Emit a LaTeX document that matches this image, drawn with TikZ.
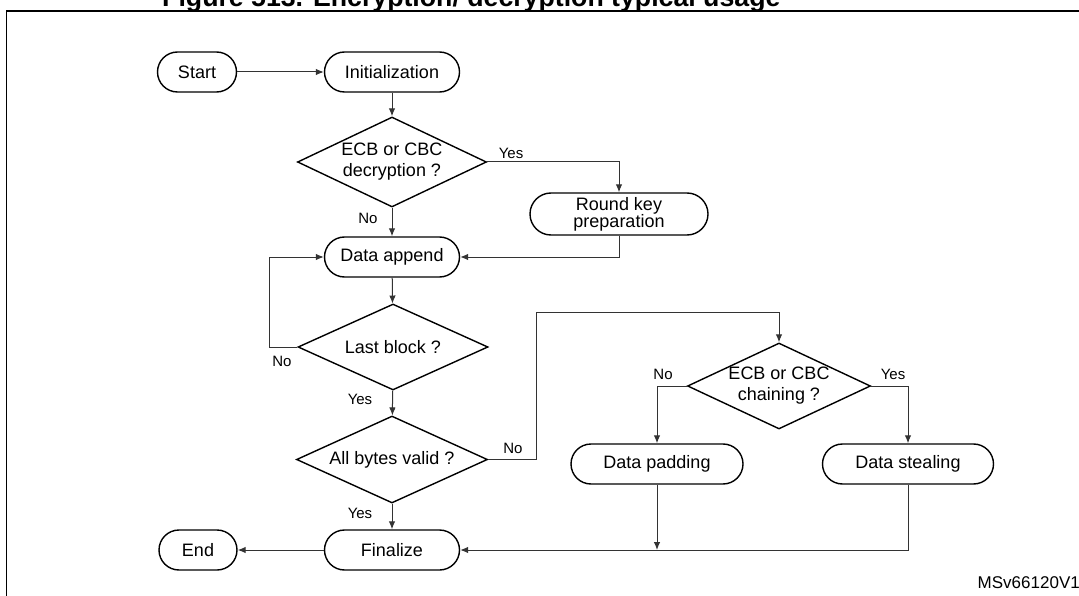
\documentclass[tikz,border=0pt]{standalone}
\usepackage{fontspec}
\setmainfont{Liberation Sans}
\usetikzlibrary{shapes.geometric,arrows.meta}
\begin{document}
\begin{tikzpicture}[x=1pt,y=-1pt,
  term/.style={draw=black,line width=1.4pt,rounded corners=20pt,minimum height=40pt,inner sep=0pt,font=\fontsize{18}{21}\selectfont,align=center},
  dec/.style={draw=black,line width=1.4pt,diamond,inner sep=0pt},
  conn/.style={draw=black!80,line width=1pt,-{Latex[length=8pt,width=6.5pt]}},
  lbl/.style={font=\fontsize{15}{17}\selectfont,inner sep=0pt},
  dtext/.style={font=\fontsize{18}{21}\selectfont,align=center,inner sep=0pt}
]
\useasboundingbox (0,0) rectangle (1079,596);
\clip (0,0) rectangle (1079,596);
% title and frame
\node[font=\fontsize{26.7}{30}\selectfont\bfseries,anchor=base west,inner sep=0pt] (title) at (162,7) {Figure 513. Encryption/ decryption typical usage};
\draw[line width=1.6pt] (6.5,610) -- (6.5,11) -- (1090,11);
% nodes
\node[term,minimum width=79pt] (start) at (197,72) {Start};
\node[term,minimum width=135pt] (init) at (392,72) {Initialization};
\node[dec,minimum width=189pt,minimum height=90pt,label={[dtext]center:{ECB or CBC\\decryption ?}}] (d1) at (392,162) {};
\node[term,minimum width=178pt,minimum height=42pt,rounded corners=21pt,font=\fontsize{18}{17}\selectfont] (rk) at (619,214) {Round key\\preparation};
\node[term,minimum width=135pt] (app) at (392,257) {Data append};
\node[dec,minimum width=190pt,minimum height=86pt,label={[dtext]center:Last block ?}] (d2) at (393,347) {};
\node[dec,minimum width=191pt,minimum height=87pt,label={[dtext]center:All bytes valid ?}] (d3) at (392,459.5) {};
\node[term,minimum width=135pt] (fin) at (392,550) {Finalize};
\node[term,minimum width=78pt] (end) at (198,550) {End};
\node[dec,minimum width=183pt,minimum height=86pt,label={[dtext]center:{ECB or CBC\\chaining ?}}] (d4) at (779,386) {};
\node[term,minimum width=172pt] (pad) at (657,464) {Data padding};
\node[term,minimum width=171pt] (steal) at (908,464) {Data stealing};
% junctions
\coordinate (j1) at (536,312);
\coordinate (j2) at (269,347);
% connectors
\draw[conn] (start) -- (init);
\draw[conn] (init) -- (d1);
\draw[conn] (d1) -- (app);
\draw[conn] (d1.east) -| (rk.north);
\draw[conn] (rk.south) |- (app.east);
\draw[conn] (app) -- (d2);
\draw[conn] (d2.west) -- (j2) |- (app.west);
\draw[conn] (d2) -- (d3);
\draw[conn] (d3) -- (fin);
\draw[conn] (d3.east) -| (j1) -| (d4.north);
\draw[conn] (d4.west) -| (pad.north);
\draw[conn] (d4.east) -| (steal.north);
\draw[conn] (pad.south) -- (pad.south |- fin.east);
\draw[conn] (steal.south) |- (fin.east);
\draw[conn] (fin) -- (end);
% labels
\node[lbl] (l1) at (511,153) {Yes};
\node[lbl] (l2) at (368,218) {No};
\node[lbl] (l3) at (282,361) {No};
\node[lbl] (l4) at (360,399) {Yes};
\node[lbl] (l5) at (513,448) {No};
\node[lbl] (l6) at (360,513) {Yes};
\node[lbl] (l7) at (663,374) {No};
\node[lbl] (l8) at (893,374) {Yes};
\node[font=\fontsize{17}{20}\selectfont,anchor=east,inner sep=0pt] (ms) at (1080,583) {MSv66120V1};
\end{tikzpicture}
\end{document}
